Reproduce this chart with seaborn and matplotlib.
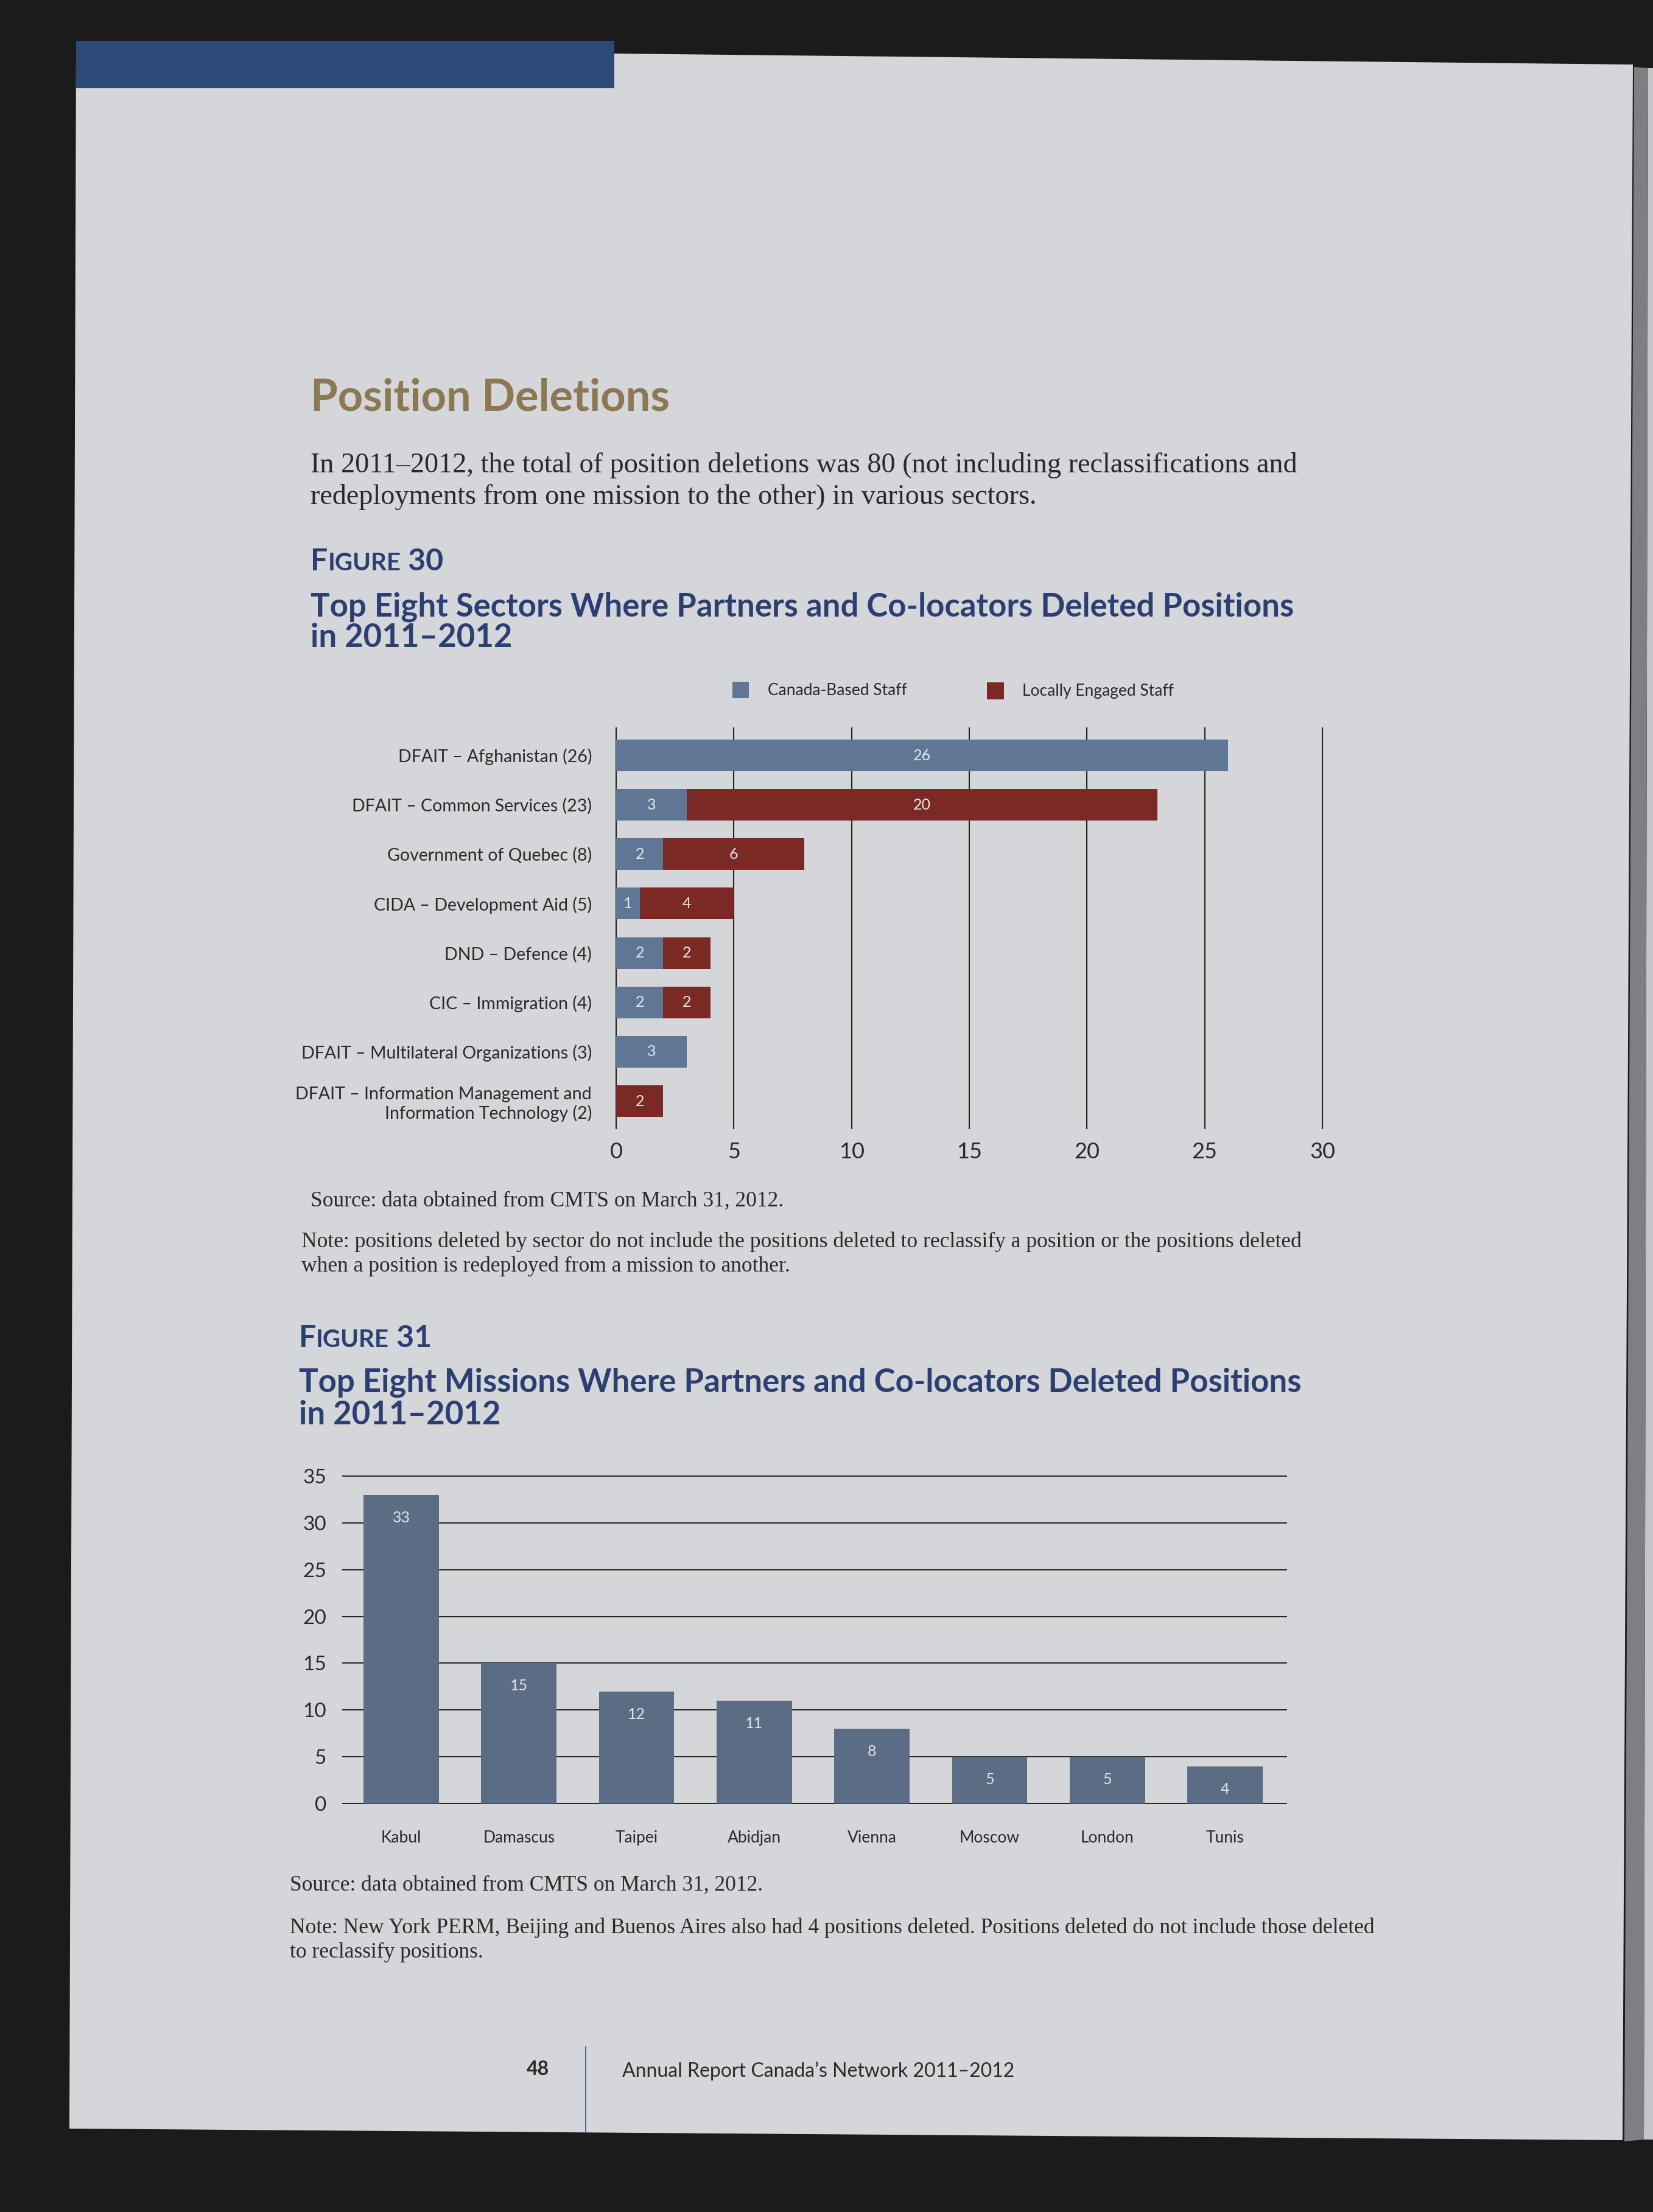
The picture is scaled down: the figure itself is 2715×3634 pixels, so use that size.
import matplotlib
matplotlib.use("Agg")
import matplotlib.pyplot as plt
from matplotlib.patches import Rectangle, Polygon
import seaborn as sns
import pandas as pd

# ---- data ----
sectors = [
    "DFAIT – Afghanistan (26)",
    "DFAIT – Common Services (23)",
    "Government of Quebec (8)",
    "CIDA – Development Aid (5)",
    "DND – Defence (4)",
    "CIC – Immigration (4)",
    "DFAIT – Multilateral Organizations (3)",
    "DFAIT – Information Management and\nInformation Technology (2)",
]
canada_based = [26, 3, 2, 1, 2, 2, 3, 0]
locally_engaged = [0, 20, 6, 4, 2, 2, 0, 2]
sector_ticks = [0, 5, 10, 15, 20, 25, 30]

missions = ["Kabul", "Damascus", "Taipei", "Abidjan", "Vienna", "Moscow", "London", "Tunis"]
mission_deletions = [33, 15, 12, 11, 8, 5, 5, 4]
mission_ticks = [0, 5, 10, 15, 20, 25, 30, 35]

# ---- style ----
W, H = 2715, 3634
PAGE = "#d5d6da"
DARK = "#1b1b1b"
BLUE = "#5f7794"
RED = "#7a2925"
BLUE2 = "#5b6d84"
NAVY = "#2b3f72"
TAN = "#8c7853"
INK = "#2a2a2a"
GRID = "#26221e"

sns.set_style("white")
plt.rcParams["font.family"] = ["Lato", "DejaVu Sans"]
SERIF = ["Liberation Serif", "DejaVu Serif"]


def fx(x):
    return x / W


def fy(y):
    return 1 - y / H


def axes_px(fig, left, top, right, bottom):
    return fig.add_axes([fx(left), fy(bottom), (right - left) / W, (bottom - top) / H])


fig = plt.figure(figsize=(W / 100, H / 100), dpi=100)
fig.patch.set_facecolor(DARK)

# page, neighbouring page edges and blue band
fig.add_artist(Polygon([(fx(2707), fy(112)), (fx(2715), fy(112)), (fx(2715), fy(3515)),
                        (fx(2700), fy(3515))], closed=True, transform=fig.transFigure,
                       facecolor="#c4c5c9", edgecolor="none", zorder=0))
fig.add_artist(Polygon([(fx(2684), fy(110)), (fx(2707), fy(112)), (fx(2700), fy(3515)),
                        (fx(2668), fy(3518))], closed=True, transform=fig.transFigure,
                       facecolor="#7e7f83", edgecolor="none", zorder=0))
fig.add_artist(Polygon([(fx(125), fy(88)), (fx(1009), fy(88)), (fx(2682), fy(106)),
                        (fx(2665), fy(3516)), (fx(114), fy(3497))], closed=True,
                       transform=fig.transFigure, facecolor=PAGE, edgecolor="none", zorder=0))
fig.add_artist(Rectangle((fx(125), fy(145)), (1009 - 125) / W, (145 - 67) / H,
                         transform=fig.transFigure, facecolor="#2d4978", edgecolor="none", zorder=1))


def small_caps(x, y, word, number, big, small):
    r = fig.canvas.get_renderer()
    pieces = [(word[0], big), (word[1:].upper(), small), (" " + number, big)]
    cur = fx(x)
    for s, size in pieces:
        t = fig.text(cur, fy(y), s, fontsize=size, fontweight="bold", color=NAVY, va="baseline")
        bb = t.get_window_extent(renderer=r)
        cur += bb.width / W


def heading(x, y, s):
    fig.text(fx(x), fy(y), s, fontsize=38, fontweight="bold", color=NAVY, va="baseline")


# ---- header text ----
fig.text(fx(510), fy(654), "Position Deletions", fontsize=52, fontweight="bold", color=TAN, va="center")
fig.text(fx(510), fy(765), "In 2011–2012, the total of position deletions was 80 (not including reclassifications and",
         fontsize=33.3, family=SERIF, color=INK, va="center")
fig.text(fx(510), fy(816), "redeployments from one mission to the other) in various sectors.",
         fontsize=33.3, family=SERIF, color=INK, va="center")

small_caps(510, 937, "Figure", "30", 36, 29)
heading(510, 1013, "Top Eight Sectors Where Partners and Co-locators Deleted Positions")
heading(510, 1063, "in 2011–2012")

# legend
fig.add_artist(Rectangle((fx(1203), fy(1147)), 27 / W, 27 / H, transform=fig.transFigure,
                         facecolor=BLUE, edgecolor="none"))
fig.text(fx(1261), fy(1134), "Canada-Based Staff", fontsize=19, color=INK, va="center")
fig.add_artist(Rectangle((fx(1621), fy(1149)), 28 / W, 28 / H, transform=fig.transFigure,
                         facecolor=RED, edgecolor="none"))
fig.text(fx(1679), fy(1136), "Locally Engaged Staff", fontsize=19, color=INK, va="center")

# ---- figure 30: stacked horizontal bars ----
df30 = pd.DataFrame({
    "sector": sectors,
    "canada": canada_based,
    "total": [c + l for c, l in zip(canada_based, locally_engaged)],
})
ux = (2172 - 1012) / 30
uy = (1809 - 1241) / 7
ax1 = axes_px(fig, 1012 - 0.1 * ux, 1241 - 0.57 * uy, 2172 + 0.1 * ux, 1809 + 0.57 * uy)
sns.barplot(data=df30, y="sector", x="total", color=RED, orient="h", width=0.64,
            saturation=1, errorbar=None, linewidth=0, edgecolor="none", ax=ax1)
sns.barplot(data=df30, y="sector", x="canada", color=BLUE, orient="h", width=0.64,
            saturation=1, errorbar=None, linewidth=0, edgecolor="none", ax=ax1)
ax1.set_xlim(-0.1, 30.1)
ax1.set_ylim(7.57, -0.57)
ax1.set_xticks(sector_ticks)
ax1.grid(axis="x", color=GRID, lw=1.5)
ax1.grid(axis="y", visible=False)
ax1.set_axisbelow(True)
ax1.set_facecolor("none")
for s in ax1.spines.values():
    s.set_visible(False)
ax1.tick_params(axis="x", length=0, pad=15, labelsize=26, labelcolor=INK)
ax1.tick_params(axis="y", length=0, pad=26, labelsize=20.5, labelcolor=INK)
ax1.set_xlabel("")
ax1.set_ylabel("")
for lab in ax1.get_yticklabels():
    lab.set_horizontalalignment("right")
    lab.set_multialignment("right")
for i, (c, l) in enumerate(zip(canada_based, locally_engaged)):
    if c > 0:
        ax1.text(c / 2, i, str(c), ha="center", va="center", fontsize=18, color="#e4e6ea")
    if l > 0:
        ax1.text(c + l / 2, i, str(l), ha="center", va="center", fontsize=18, color="#e8e4e4")

fig.text(fx(510), fy(1973), "Source: data obtained from CMTS on March 31, 2012.",
         fontsize=25.5, family=SERIF, color=INK, va="center")
fig.text(fx(495), fy(2040), "Note: positions deleted by sector do not include the positions deleted to reclassify a position or the positions deleted",
         fontsize=25.5, family=SERIF, color=INK, va="center")
fig.text(fx(495), fy(2080), "when a position is redeployed from a mission to another.",
         fontsize=25.5, family=SERIF, color=INK, va="center")

# ---- figure 31: vertical bars ----
small_caps(491, 2213, "Figure", "31", 36, 29)
heading(491, 2286, "Top Eight Missions Where Partners and Co-locators Deleted Positions")
heading(491, 2340, "in 2011–2012")

df31 = pd.DataFrame({"mission": missions, "deleted": mission_deletions})
ux2 = (2012 - 659) / 7
uy2 = (2963 - 2425) / 35
ax2 = axes_px(fig, 659 - 0.5 * ux2, 2425 - 0.15 * uy2, 2012 + 0.53 * ux2, 2963 + 0.15 * uy2)
sns.barplot(data=df31, x="mission", y="deleted", color=BLUE2, width=0.64,
            saturation=1, errorbar=None, linewidth=0, edgecolor="none", ax=ax2)
ax2.set_xlim(-0.5, 7.53)
ax2.set_ylim(-0.15, 35.15)
ax2.set_yticks(mission_ticks)
ax2.grid(axis="y", color=GRID, lw=1.4)
ax2.grid(axis="x", visible=False)
ax2.set_axisbelow(True)
ax2.set_facecolor("none")
for s in ax2.spines.values():
    s.set_visible(False)
ax2.tick_params(axis="y", length=0, pad=19, labelsize=24, labelcolor=INK)
ax2.tick_params(axis="x", length=0, pad=30, labelsize=19, labelcolor=INK)
ax2.set_xlabel("")
ax2.set_ylabel("")
for i, v in enumerate(mission_deletions):
    ax2.annotate(str(v), (i, v), xytext=(0, -27), textcoords="offset points",
                 ha="center", va="center", fontsize=18, color="#e2e4e8")

fig.text(fx(476), fy(3097), "Source: data obtained from CMTS on March 31, 2012.",
         fontsize=25.5, family=SERIF, color=INK, va="center")
fig.text(fx(476), fy(3167), "Note: New York PERM, Beijing and Buenos Aires also had 4 positions deleted. Positions deleted do not include those deleted",
         fontsize=25.5, family=SERIF, color=INK, va="center")
fig.text(fx(476), fy(3207), "to reclassify positions.", fontsize=25.5, family=SERIF, color=INK, va="center")

# footer
fig.text(fx(902), fy(3399), "48", fontsize=23, fontweight="bold", color=INK, va="center", ha="right")
fig.add_artist(plt.Line2D([fx(962), fx(962)], [fy(3362), fy(3503)], transform=fig.transFigure,
                          color="#3b5288", lw=1.2))
fig.text(fx(1022), fy(3402), "Annual Report Canada’s Network 2011–2012", fontsize=23, color=INK, va="center")

fig.savefig("out.png", dpi=100, facecolor=fig.get_facecolor())
